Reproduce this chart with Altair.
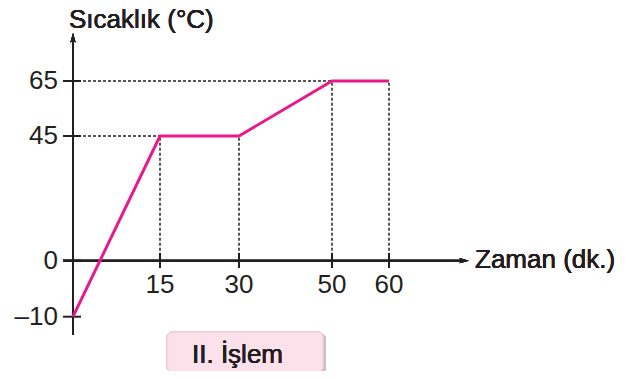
import altair as alt
import pandas as pd

# Data
time = [0, 15, 30, 50, 60]
temp = [-10, 45, 45, 65, 65]
y_ticks = [-10, 0, 45, 65]
y_tick_labels = ["\u201310", "0", "45", "65"]
x_ticks = [15, 30, 50, 60]
x_tick_labels = ["15", "30", "50", "60"]
y_title = "Sıcaklık (°C)"
x_title = "Zaman (dk.)"
caption = "II. İşlem"

PINK = "#E8198B"
INK = "#231F20"
FONT = "Liberation Sans"
FS = 26

# Piecewise scales (match the hand-drawn spacing of the original)
xs = alt.Scale(domain=time, range=[65, 152, 231, 324, 381], nice=False, zero=False)
ys = alt.Scale(domain=[-10, 0, 45, 65], range=[308.7, 252.7, 128, 73], nice=False, zero=False)

line_df = pd.DataFrame({"t": time, "T": temp})
vdash_df = pd.DataFrame({"t": time[1:], "T": temp[1:], "z": [0] * 4})
hdash_df = pd.DataFrame({"t": [time[1], time[3]], "T": [temp[1], temp[3]], "z": [0, 0]})
ytick_df = pd.DataFrame({"v": y_ticks, "lab": y_tick_labels})
xtick_df = pd.DataFrame({"v": x_ticks, "lab": x_tick_labels})

X = lambda f: alt.X(f, type="quantitative", scale=xs, axis=None)
Y = lambda f: alt.Y(f, type="quantitative", scale=ys, axis=None)
Y0 = alt.Y(datum=0, type="quantitative", scale=ys, axis=None)

base = alt.Chart(line_df)

# dashed guides
hdash = alt.Chart(hdash_df).mark_rule(color=INK, strokeWidth=1.5, strokeDash=[3, 2]).encode(
    x=X("z"), x2="t", y=Y("T"))
vdash = alt.Chart(vdash_df).mark_rule(color=INK, strokeWidth=1.5, strokeDash=[3, 2]).encode(
    x=X("t"), y=Y("z"), y2="T")

# axes lines
yaxis = base.mark_rule(color=INK, strokeWidth=2).encode(
    x=alt.value(65), y=alt.value(30), y2=alt.value(327))
xaxis = base.mark_rule(color=INK, strokeWidth=2).encode(
    x=alt.value(55), x2=alt.value(456), y=Y0)

arrow_path = "M0,-1 L0.45,0.6 L0,0.35 L-0.45,0.6 Z"
yarrow = base.mark_point(shape=arrow_path, filled=True, color=INK, size=140, opacity=1).encode(
    x=alt.value(65), y=alt.value(31))
xarrow = base.mark_point(shape=arrow_path, filled=True, color=INK, size=140, opacity=1, angle=90).encode(
    x=alt.value(455), y=Y0)

# ticks
ytick = alt.Chart(ytick_df).mark_rule(color=INK, strokeWidth=2).encode(
    x=alt.value(55), x2=alt.value(73), y=Y("v"))
xtick = alt.Chart(xtick_df).mark_rule(color=INK, strokeWidth=2).encode(
    x=X("v"), y=alt.value(245), y2=alt.value(260))

txt = dict(font=FONT, fontSize=FS, color=INK, fontWeight="normal")

ylab = alt.Chart(ytick_df).mark_text(align="right", baseline="middle", **txt).encode(
    x=alt.value(50), y=Y("v"), text="lab:N")
xlab = alt.Chart(xtick_df).mark_text(align="center", baseline="alphabetic", **txt).encode(
    x=X("v"), y=alt.value(285), text="lab:N")

ytitle = base.mark_text(align="left", baseline="alphabetic", **txt).encode(
    x=alt.value(61), y=alt.value(19.5), text=alt.value(y_title))
xtitle = base.mark_text(align="left", baseline="middle", dy=-1, **txt).encode(
    x=alt.value(467), y=Y0, text=alt.value(x_title))

# caption box
shadow = base.mark_rect(color="#C4C4C4", cornerRadius=5).encode(
    x=alt.value(161), x2=alt.value(318), y=alt.value(326), y2=alt.value(366))
box = base.mark_rect(color="#FCE1EB", cornerRadius=5, stroke="#F3C6D6", strokeWidth=1).encode(
    x=alt.value(159), x2=alt.value(315), y=alt.value(324), y2=alt.value(364))
cap = base.mark_text(align="left", baseline="alphabetic", **txt).encode(
    x=alt.value(184), y=alt.value(355), text=alt.value(caption))

line = base.mark_line(color=PINK, strokeWidth=3).encode(x=X("t"), y=Y("T"))

chart = alt.layer(
    hdash, vdash, yaxis, xaxis, yarrow, xarrow, ytick, xtick,
    ylab, xlab, ytitle, xtitle, shadow, box, cap, line
).properties(
    width=624, height=363, padding=0,
    autosize=alt.AutoSizeParams(type="none"),
).configure_view(stroke=None)

chart.save("out.html", embed_options={"renderer": "svg", "actions": False})
